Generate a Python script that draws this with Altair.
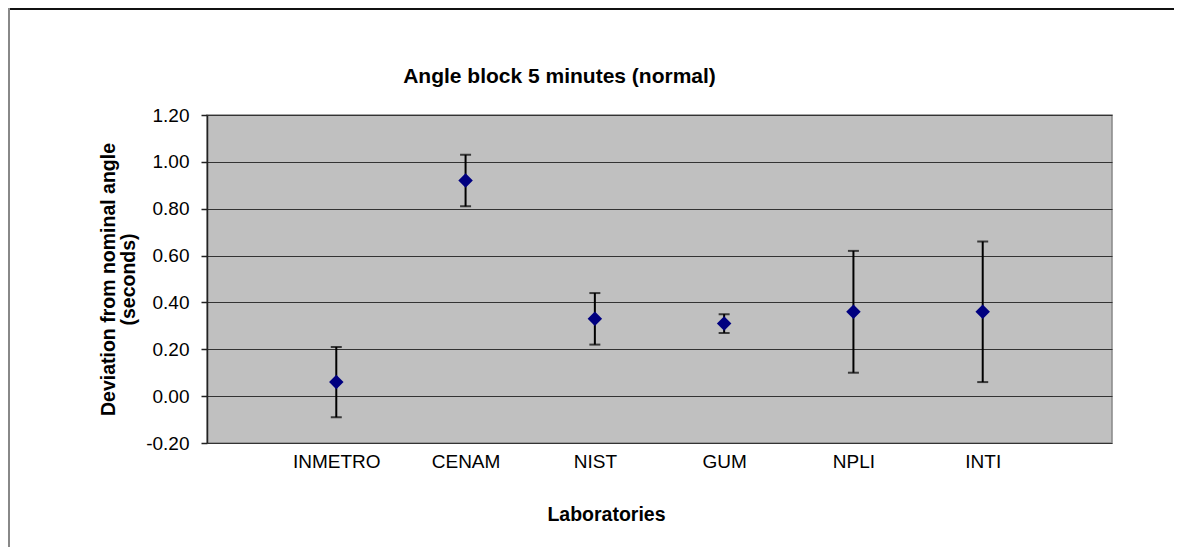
import altair as alt
import pandas as pd

labs = ["INMETRO", "CENAM", "NIST", "GUM", "NPLI", "INTI"]
pos = [1, 2, 3, 4, 5, 6]
vals = [0.06, 0.92, 0.33, 0.31, 0.36, 0.36]
errs = [0.15, 0.11, 0.11, 0.04, 0.26, 0.30]
yticks = [-0.2, 0, 0.2, 0.4, 0.6, 0.8, 1.0, 1.2]

df = pd.DataFrame({"lab": labs, "pos": pos, "val": vals, "err": errs})
df["lo"] = df["val"] - df["err"]
df["hi"] = df["val"] + df["err"]

label_expr = "[''," + ",".join(f"'{l}'" for l in labs) + ",''][datum.value]"

FONT = "Liberation Sans"

xenc = alt.X("pos:Q", scale=alt.Scale(domain=[0, 7], nice=False, zero=False),
             axis=alt.Axis(values=pos, labelExpr=label_expr, ticks=False, domain=False,
                           grid=False, labelPadding=9, labelFontSize=19,
                           labelColor="#000", labelFont=FONT,
                           title="Laboratories", titleFont=FONT, titleFontSize=19.5,
                           titleFontWeight="bold", titleColor="#000",
                           titleX=399, titleY=71, titleAlign="center",
                           titleBaseline="middle"))
yenc = alt.Y("val:Q", scale=alt.Scale(domain=[-0.2, 1.2], nice=False, zero=False),
             axis=alt.Axis(values=yticks,
                           labelExpr="replace(format(datum.value, '.2f'), '\u2212', '-')",
                           labelFontSize=19, labelColor="#000", labelFont=FONT,
                           labelPadding=12, tickSize=6, tickColor="#222", tickWidth=1.5,
                           domainColor="#222", domainWidth=1.5,
                           grid=True, gridColor="#333", gridWidth=1.2,
                           title=["Deviation from nominal angle", "(seconds)"],
                           titleFont=FONT, titleFontSize=19.5, titleFontWeight="bold",
                           titleColor="#000", titleAngle=-90, titleX=-99, titleY=164,
                           titleAlign="center", titleBaseline="middle",
                           titleLineHeight=20))

base = alt.Chart(df)

bars = base.mark_rule(color="#000", strokeWidth=2).encode(
    x=xenc, y=alt.Y("lo:Q"), y2="hi:Q")
cap_lo = base.mark_tick(color="#000", orient="horizontal", size=11, thickness=2).encode(
    x="pos:Q", y="lo:Q")
cap_hi = base.mark_tick(color="#000", orient="horizontal", size=11, thickness=2).encode(
    x="pos:Q", y="hi:Q")
pts = base.mark_point(shape="diamond", filled=True, color="#000080", size=210, opacity=1).encode(
    x="pos:Q", y=yenc)

frame_df = pd.DataFrame({"k": [0]})
top_line = alt.Chart(frame_df).mark_rule(color="#111", strokeWidth=2).encode(
    x=alt.value(-199), x2=alt.value(967), y=alt.value(-106))
left_line = alt.Chart(frame_df).mark_rule(color="#888", strokeWidth=2).encode(
    x=alt.value(-198), y=alt.value(-107), y2=alt.value(432))

chart = alt.layer(bars, cap_lo, cap_hi, pts, top_line, left_line).properties(
    width=905, height=328,
    autosize=alt.AutoSizeParams(type="none"),
    padding={"left": 199, "top": 107, "right": 62, "bottom": 104},
    title=alt.TitleParams("Angle block 5 minutes (normal)", font=FONT, fontSize=21,
                          fontWeight="bold", color="#000", anchor="middle",
                          baseline="alphabetic", dx=-100, offset=-97),
).configure(
    background="white",
    view=alt.ViewConfig(fill="#C0C0C0", stroke="#888", strokeWidth=1.5),
)

chart.save("out.html", embed_options={"renderer": "svg", "actions": False})
